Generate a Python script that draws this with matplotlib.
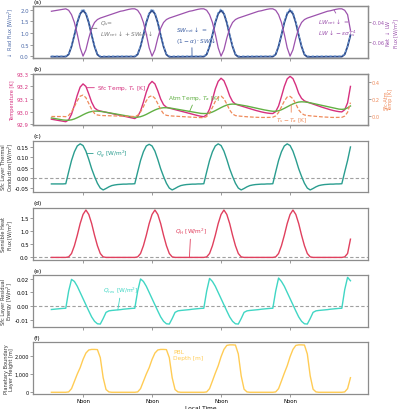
import matplotlib
matplotlib.use("Agg")
import matplotlib.pyplot as plt
from matplotlib.ticker import FuncFormatter

# hourly samples, noon at 12, 36, 60, 84
hours = list(range(1, 106))
noon_ticks = [12, 36, 60, 84]
noon_labels = ["Noon", "Noon", "Noon", "Noon"]

sw_net = (
    [0, 0, 0, 0, 0]
    + [0, 0.1, 0.45, 0.95, 1.5, 1.9, 2.05, 1.9, 1.5, 0.95, 0.45, 0.1] + [0] * 12
    + [0, 0.1, 0.45, 0.95, 1.5, 1.9, 2.05, 1.9, 1.5, 0.95, 0.45, 0.1] + [0] * 12
    + [0, 0.1, 0.45, 0.95, 1.5, 1.9, 2.05, 1.9, 1.5, 0.95, 0.45, 0.1] + [0] * 12
    + [0, 0.1, 0.45, 0.95, 1.5, 1.9, 2.05, 1.9, 1.5, 0.95, 0.45, 0.1] + [0] * 12
    + [0, 0.1, 0.45, 0.95]
)
lw_net = (
    [-0.0285, -0.028, -0.0275, -0.027, -0.0265]
    + [-0.026, -0.0275, -0.032, -0.040, -0.052, -0.066, -0.0745, -0.068, -0.056, -0.046, -0.040, -0.037,
       -0.0355, -0.0345, -0.0335, -0.0325, -0.0315, -0.0305, -0.0295, -0.0285, -0.028, -0.0272, -0.0265, -0.026]
    + [-0.026, -0.0275, -0.032, -0.040, -0.052, -0.066, -0.0745, -0.068, -0.056, -0.046, -0.040, -0.037,
       -0.0355, -0.0345, -0.0335, -0.0325, -0.0315, -0.0305, -0.0295, -0.0285, -0.028, -0.0272, -0.0265, -0.026]
    + [-0.026, -0.0275, -0.032, -0.040, -0.052, -0.066, -0.0745, -0.068, -0.056, -0.046, -0.040, -0.037,
       -0.0355, -0.0345, -0.0335, -0.0325, -0.0315, -0.0305, -0.0295, -0.0285, -0.028, -0.0272, -0.0265, -0.026]
    + [-0.026, -0.0275, -0.032, -0.040, -0.052, -0.066, -0.0745, -0.068, -0.056, -0.046, -0.040, -0.037,
       -0.0355, -0.0345, -0.0335, -0.0325, -0.0315, -0.0305, -0.0295, -0.0285, -0.028, -0.0272, -0.0265, -0.026]
    + [-0.026, -0.0275, -0.032, -0.048]
)
t_sfc = (
    [92.94, 92.936, 92.932, 92.928, 92.924]
    + [92.92, 92.935, 92.98, 93.05, 93.13, 93.195, 93.22, 93.2, 93.14, 93.075, 93.03, 93.012,
       93.005, 93.0, 92.995, 92.99, 92.985, 92.98, 92.975, 92.97, 92.965, 92.96, 92.955, 92.95]
    + [92.945, 92.96, 93.005, 93.075, 93.155, 93.215, 93.24, 93.22, 93.165, 93.1, 93.055, 93.035,
       93.028, 93.022, 93.016, 93.01, 93.004, 92.998, 92.992, 92.986, 92.98, 92.974, 92.968, 92.963]
    + [92.96, 92.975, 93.02, 93.095, 93.18, 93.24, 93.265, 93.245, 93.19, 93.125, 93.08, 93.06,
       93.052, 93.045, 93.038, 93.031, 93.024, 93.017, 93.01, 93.004, 92.998, 92.993, 92.989, 92.986]
    + [92.985, 93.0, 93.045, 93.12, 93.2, 93.26, 93.28, 93.262, 93.21, 93.145, 93.105, 93.085,
       93.076, 93.068, 93.06, 93.052, 93.044, 93.036, 93.029, 93.022, 93.015, 93.009, 93.004, 93.0]
    + [92.998, 93.015, 93.07, 93.2]
)
t_atm = (
    [92.95, 92.946, 92.942, 92.938, 92.934]
    + [92.932, 92.932, 92.935, 92.942, 92.952, 92.963, 92.975, 92.986, 92.995, 93.001, 93.004, 93.004,
       93.002, 92.999, 92.995, 92.991, 92.987, 92.983, 92.979, 92.975, 92.971, 92.967, 92.963, 92.959]
    + [92.956, 92.956, 92.96, 92.968, 92.978, 92.99, 93.002, 93.013, 93.022, 93.028, 93.031, 93.031,
       93.029, 93.026, 93.022, 93.018, 93.014, 93.01, 93.006, 93.002, 92.998, 92.994, 92.99, 92.986]
    + [92.985, 92.985, 92.989, 92.997, 93.008, 93.02, 93.032, 93.043, 93.052, 93.058, 93.06, 93.059,
       93.056, 93.052, 93.048, 93.044, 93.039, 93.034, 93.029, 93.024, 93.019, 93.014, 93.01, 93.006]
    + [93.003, 93.003, 93.007, 93.015, 93.026, 93.038, 93.05, 93.061, 93.07, 93.076, 93.078, 93.077,
       93.074, 93.07, 93.065, 93.06, 93.055, 93.05, 93.045, 93.04, 93.035, 93.03, 93.025, 93.02]
    + [93.018, 93.02, 93.03, 93.045]
)
q_g = (
    [-0.028] * 5
    + [-0.027, 0.03, 0.085, 0.127, 0.155, 0.165, 0.157, 0.13, 0.09, 0.045, 0.008, -0.025,
       -0.048, -0.057, -0.05, -0.042, -0.036, -0.033, -0.031, -0.03, -0.029, -0.029, -0.028, -0.028]
    + [-0.027, 0.03, 0.085, 0.127, 0.155, 0.163, 0.155, 0.13, 0.09, 0.045, 0.008, -0.025,
       -0.048, -0.057, -0.05, -0.042, -0.036, -0.033, -0.031, -0.03, -0.029, -0.029, -0.028, -0.028]
    + [-0.027, 0.03, 0.085, 0.127, 0.155, 0.165, 0.157, 0.13, 0.09, 0.045, 0.008, -0.025,
       -0.048, -0.057, -0.05, -0.042, -0.036, -0.033, -0.031, -0.03, -0.029, -0.029, -0.028, -0.028]
    + [-0.027, 0.03, 0.085, 0.127, 0.155, 0.165, 0.157, 0.13, 0.09, 0.045, 0.008, -0.025,
       -0.048, -0.057, -0.05, -0.042, -0.036, -0.033, -0.031, -0.03, -0.029, -0.029, -0.028, -0.028]
    + [-0.027, 0.03, 0.085, 0.15]
)
q_h = (
    [0] * 5
    + [0, 0.02, 0.15, 0.45, 0.85, 1.3, 1.65, 1.82, 1.65, 1.3, 0.85, 0.45, 0.15, 0.02] + [0] * 10
    + [0, 0.02, 0.15, 0.45, 0.85, 1.3, 1.65, 1.82, 1.65, 1.3, 0.85, 0.45, 0.15, 0.02] + [0] * 10
    + [0, 0.02, 0.15, 0.45, 0.85, 1.3, 1.65, 1.82, 1.65, 1.3, 0.85, 0.45, 0.15, 0.02] + [0] * 10
    + [0, 0.02, 0.15, 0.45, 0.85, 1.3, 1.65, 1.82, 1.65, 1.3, 0.85, 0.45, 0.15, 0.02] + [0] * 10
    + [0, 0.02, 0.15, 0.7]
)
q_res = (
    [-0.0024, -0.0022, -0.002, -0.0018, -0.0016]
    + [-0.0015, 0.011, 0.0195, 0.018, 0.0145, 0.010, 0.0055, 0.001, -0.0035, -0.0078, -0.011, -0.0128,
       -0.013, -0.009, -0.0045, -0.0034, -0.0031, -0.0029, -0.0027, -0.0025, -0.0022, -0.002, -0.0018, -0.0016]
    + [-0.0015, 0.011, 0.0198, 0.018, 0.0145, 0.010, 0.0055, 0.001, -0.0035, -0.0078, -0.011, -0.0128,
       -0.013, -0.009, -0.0045, -0.0034, -0.0031, -0.0029, -0.0027, -0.0025, -0.0022, -0.002, -0.0018, -0.0016]
    + [-0.0015, 0.011, 0.0202, 0.018, 0.0145, 0.010, 0.0055, 0.001, -0.0035, -0.0078, -0.011, -0.0128,
       -0.013, -0.009, -0.0045, -0.0034, -0.0031, -0.0029, -0.0027, -0.0025, -0.0022, -0.002, -0.0018, -0.0016]
    + [-0.0015, 0.011, 0.0205, 0.018, 0.0145, 0.010, 0.0055, 0.001, -0.0035, -0.0078, -0.011, -0.0128,
       -0.013, -0.009, -0.0045, -0.0034, -0.0031, -0.0029, -0.0027, -0.0025, -0.0022, -0.002, -0.0018, -0.0016]
    + [-0.0015, 0.012, 0.021, 0.0185]
)
pbl = (
    [0] * 5
    + [0, 20, 200, 600, 1000, 1350, 1800, 2150, 2320, 2350, 2350, 2340, 1900, 800, 150, 20, 0] + [0] * 7
    + [0, 20, 200, 600, 1000, 1350, 1800, 2150, 2320, 2350, 2350, 2340, 1900, 800, 150, 20, 0] + [0] * 7
    + [0, 20, 200, 620, 1050, 1450, 1950, 2350, 2570, 2600, 2600, 2590, 2100, 900, 170, 20, 0] + [0] * 7
    + [0, 20, 200, 620, 1050, 1450, 1950, 2350, 2570, 2600, 2600, 2590, 2100, 900, 170, 20, 0] + [0] * 7
    + [0, 20, 200, 800]
)

# Q_s is defined on the chart as LW_net + SW_net, and the dashed curve as Ts - Ta
q_s = [s + l for s, l in zip(sw_net, lw_net)]
t_diff = [a - b for a, b in zip(t_sfc, t_atm)]

FS = 4.2
TFS = 3.9
LFS = 3.6
GRAY = "#8c8c8c"
plt.rcParams["font.size"] = FS
plt.rcParams["mathtext.default"] = "it"
plt.rcParams["axes.unicode_minus"] = False

fig = plt.figure(figsize=(4, 4.1), dpi=100)
gs = fig.add_gridspec(6, 1, left=0.0825, right=0.92, top=0.982, bottom=0.0366, hspace=0.30)
axes = [fig.add_subplot(gs[i]) for i in range(6)]

# label anchors in axes fraction (axes span x = 33..368 px)
LEFT_LABEL_X = -0.053
RIGHT_LABEL_X = 1.047


def style(ax, label):
    ax.set_xlim(-5.4, 111.1)
    ax.set_xticks(noon_ticks)
    ax.set_xticklabels([])
    for sp in ax.spines.values():
        sp.set_color(GRAY)
        sp.set_linewidth(0.9)
    ax.tick_params(length=2, width=0.6, color=GRAY, labelsize=TFS, pad=1.0)
    ax.set_title(label, loc="left", fontsize=FS, pad=2.5)


def style_twin(ax, color):
    ax.tick_params(length=2, width=0.6, color=GRAY, labelsize=3.6, pad=0.8, labelcolor=color)
    for sp in ax.spines.values():
        sp.set_color(GRAY)
        sp.set_linewidth(0.9)


def left_label(ax, text, color="#333333", x=LEFT_LABEL_X):
    ax.set_ylabel(text, color=color, fontsize=LFS, linespacing=0.9)
    ax.yaxis.set_label_coords(x, 0.5)


def right_label(ax, text, color):
    ax.set_ylabel(text, color=color, fontsize=LFS, linespacing=0.9)
    ax.yaxis.set_label_coords(RIGHT_LABEL_X, 0.5)


# (a) radiation
ax = axes[0]
style(ax, "(a)")
ax.plot(hours, q_s, color="#2d4a8a", lw=1.3)
ax.plot(hours, sw_net, color="#6f9bd6", lw=0.8, ls=(0, (2, 2)))
ax.set_ylim(-0.087, 2.15)
ax.set_yticks([0, 0.5, 1.0, 1.5, 2.0])
left_label(ax, r"$\downarrow$ Rad Flux [W/m$^2$]", "#4a68a8")
ax.tick_params(axis="y", labelcolor="#4a68a8")
ax2 = ax.twinx()
ax2.plot(hours, lw_net, color="#9c52ad", lw=0.9)
ax2.set_ylim(-0.0765, -0.0235)
ax2.set_yticks([-0.06, -0.04])
style_twin(ax2, "#9c52ad")
right_label(ax2, "Net $\\downarrow$ LW\nFlux [W/m$^2$]", "#9c52ad")
ax.annotate("$Q_s$=\n$LW_{net}\\downarrow+SW_{net}\\downarrow$", xy=(14.5, 1.2), xytext=(17.8, 1.2),
            color="#7a7a7a", fontsize=FS, va="center", ha="left",
            arrowprops=dict(arrowstyle="-", color="#7a7a7a", lw=0.6, shrinkA=0, shrinkB=0))
ax.annotate("$SW_{net}\\downarrow$ =\n$(1-\\alpha)\\cdot SW\\downarrow$", xy=(49.9, 0.02), xytext=(44.3, 0.94),
            color="#3d5fa3", fontsize=FS, va="center", ha="left",
            arrowprops=dict(arrowstyle="-", color="#3d5fa3", lw=0.6, shrinkA=0, shrinkB=0,
                            relpos=(0.4, 0.0)))
ax2.annotate("$LW_{net}\\downarrow$ =\n$LW\\downarrow-\\epsilon\\sigma T_s^4$", xy=(99.3, -0.0273), xytext=(93.7, -0.0445),
             color="#9c52ad", fontsize=FS, va="center", ha="left",
             arrowprops=dict(arrowstyle="-", color="#9c52ad", lw=0.6, shrinkA=0, shrinkB=0,
                             relpos=(0.5, 1.0)))

# (b) temperatures
ax = axes[1]
style(ax, "(b)")
ax.plot(hours, t_sfc, color="#d6307f", lw=1.0)
ax.plot(hours, t_atm, color="#62b044", lw=1.0)
ax.set_ylim(92.892, 93.302)
ax.set_yticks([92.9, 93.0, 93.1, 93.2, 93.3])
left_label(ax, "Temperature [K]", "#d6307f")
ax.tick_params(axis="y", labelcolor="#d6307f")
ax3 = ax.twinx()
ax3.plot(hours, t_diff, color="#ef8a5a", lw=0.9, ls=(0, (3, 1.5)))
ax3.set_ylim(-0.114, 0.501)
ax3.set_yticks([0.0, 0.2, 0.4])
style_twin(ax3, "#ef8a5a")
right_label(ax3, "Sfc-Atm\nTemp [K]", "#ef8a5a")
ax.annotate("Sfc Temp, $T_s$ [K]", xy=(13.4, 93.19), xytext=(16.9, 93.19),
            color="#d6307f", fontsize=FS, va="center", ha="left",
            arrowprops=dict(arrowstyle="-", color="#d6307f", lw=0.6, shrinkA=0, shrinkB=0))
ax.annotate("Atm Temp, $T_a$ [K]", xy=(49.0, 92.998), xytext=(41.7, 93.11),
            color="#62b044", fontsize=FS, va="center", ha="left",
            arrowprops=dict(arrowstyle="-", color="#62b044", lw=0.6, shrinkA=0, shrinkB=0,
                            relpos=(0.48, 0.0)))
ax3.annotate("$T_s-T_a$ [K]", xy=(84.4, 0.13), xytext=(84.4, -0.045),
             color="#ef8a5a", fontsize=FS, va="center", ha="center",
             arrowprops=dict(arrowstyle="-", color="#ef8a5a", lw=0.6, shrinkA=0, shrinkB=0,
                             relpos=(0.5, 1.0)))

# (c) ground conduction
ax = axes[2]
style(ax, "(c)")
ax.axhline(0, color="#a0a0a0", lw=0.8, ls=(0, (3, 2)))
ax.plot(hours, q_g, color="#2a9d8f", lw=1.0)
ax.set_ylim(-0.069, 0.18)
ax.set_yticks([-0.05, 0.0, 0.05, 0.10, 0.15])
left_label(ax, "Sfc Layer Thermal\nConduction [W/m$^2$]")
ax.annotate("$Q_g$ [W/m$^2$]", xy=(13.5, 0.119), xytext=(16.5, 0.119),
            color="#2a9d8f", fontsize=FS, va="center", ha="left",
            arrowprops=dict(arrowstyle="-", color="#2a9d8f", lw=0.6, shrinkA=0, shrinkB=0))

# (d) sensible heat
ax = axes[3]
style(ax, "(d)")
ax.axhline(0, color="#a0a0a0", lw=0.8, ls=(0, (3, 2)))
ax.plot(hours, q_h, color="#e0405e", lw=1.0)
ax.set_ylim(-0.085, 1.9)
ax.set_yticks([0.0, 0.5, 1.0, 1.5])
left_label(ax, "Sensible Heat\nFlux [W/m$^2$]")
ax.annotate("$Q_H$ [W/m$^2$]", xy=(49.0, 0.0), xytext=(44.0, 1.0),
            color="#e0405e", fontsize=FS, va="center", ha="left",
            arrowprops=dict(arrowstyle="-", color="#e0405e", lw=0.6, shrinkA=0, shrinkB=0,
                            relpos=(0.48, 0.0)))

# (e) residual
ax = axes[4]
style(ax, "(e)")
ax.axhline(0, color="#a0a0a0", lw=0.8, ls=(0, (3, 2)))
ax.plot(hours, q_res, color="#40d6c4", lw=1.0)
ax.set_ylim(-0.015, 0.0226)
ax.set_yticks([-0.01, 0.0, 0.01, 0.02])
left_label(ax, "Sfc Layer Residual\nEnergy [W/m$^2$]")
ax.annotate("$Q_{res}$ [W/m$^2$]", xy=(24.1, -0.0027), xytext=(19.0, 0.0115),
            color="#40d6c4", fontsize=FS, va="center", ha="left",
            arrowprops=dict(arrowstyle="-", color="#40d6c4", lw=0.6, shrinkA=0, shrinkB=0,
                            relpos=(0.48, 0.0)))

# (f) boundary layer
ax = axes[5]
style(ax, "(f)")
ax.plot(hours, pbl, color="#ffcc55", lw=1.0)
ax.set_ylim(-94, 2740)
ax.set_yticks([0, 1000, 2000])
ax.yaxis.set_major_formatter(FuncFormatter(lambda v, p: f"{v:,.0f}"))
ax.tick_params(axis="y", labelsize=3.6, pad=0.8)
left_label(ax, "Planetary Boundary\nLayer Height [m]", x=-0.058)
ax.text(43.3, 2070, "PBL\nDepth [m]", color="#ffcc55", fontsize=FS, va="center", ha="left")
ax.set_xticklabels(noon_labels)
ax.set_xlabel("Local Time", fontsize=FS, labelpad=1)

fig.savefig("out.png", dpi=100)
